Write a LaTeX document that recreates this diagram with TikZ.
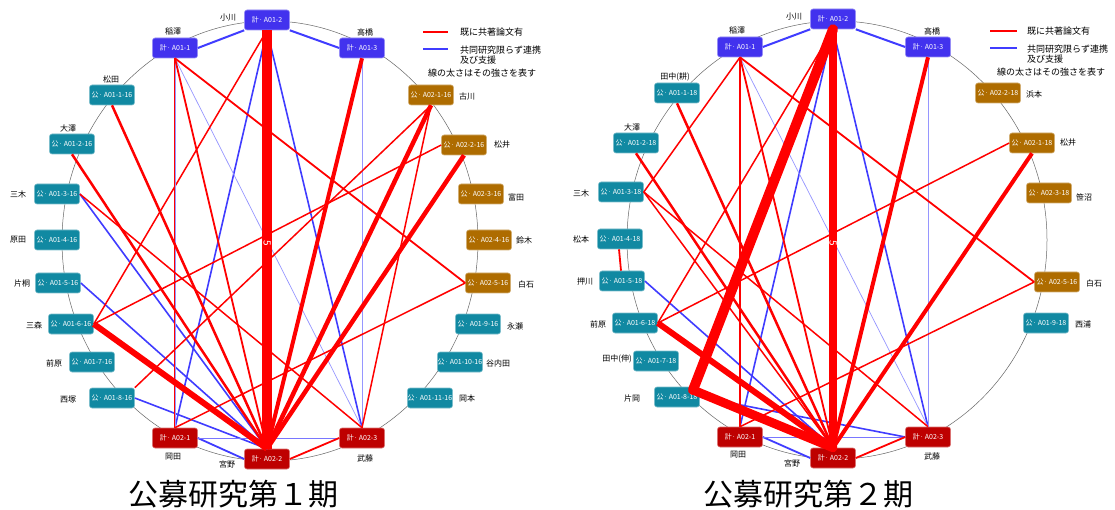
\documentclass[tikz,border=0pt]{standalone}
\usepackage{fontspec}
\newfontfamily\jp{Noto Sans CJK JP}
\definecolor{kblue}{RGB}{66,50,238}
\definecolor{kred}{RGB}{190,0,0}
\definecolor{pteal}{RGB}{17,137,162}
\definecolor{pbrown}{RGB}{174,108,0}
\definecolor{ered}{RGB}{255,0,0}
\definecolor{eblue}{RGB}{64,60,255}
\definecolor{lblue}{RGB}{150,150,255}
\newcommand{\kk}{計·\,}
\newcommand{\kp}{公·\,}
\tikzset{
  nd/.style={rounded corners=2.5pt, minimum width=45pt, minimum height=20pt, inner sep=0pt,
    text=white, font=\jp\fontsize{7}{8}\selectfont, fill=#1, draw=#1!55!white, line width=0.6pt},
  kb/.style={nd=kblue},
  kr/.style={nd=kred},
  pt/.style={nd=pteal},
  pb/.style={nd=pbrown},
  lab/.style={font=\jp\fontsize{8}{9}\selectfont, text=black, inner sep=0pt},
  leg/.style={font=\jp\fontsize{9}{10}\selectfont, text=black, inner sep=0pt, anchor=west, align=left},
  re/.style={draw=ered, line width=#1},
  be/.style={draw=eblue, line width=#1},
  te/.style={draw=lblue, line width=#1},
  ring/.style={draw=black!60, line width=0.5pt},
  ttl/.style={font=\jp\fontsize{30}{32}\selectfont, text=black, inner sep=0pt},
  wt/.style={font=\jp\fontsize{10}{10}\selectfont, text=white, inner sep=0pt, rotate=-90}
}
\begin{document}
\begin{tikzpicture}[x=1pt,y=-1pt]
\useasboundingbox (0,0) rectangle (1115,510);
\fill[white] (0,0) rectangle (1115,510);

% ================= LEFT (period 1) =================
\draw[ring] (270,241) ellipse [x radius=208, y radius=220];
\node[kb] (L12) at (267,20) {\kk A01-2};
\node[kb] (L11) at (175,48) {\kk A01-1};
\node[kb] (L13) at (362,48) {\kk A01-3};
\node[pt] (La1) at (112,95) {\kp A01-1-16};
\node[pt] (La2) at (72,144) {\kp A01-2-16};
\node[pt] (La3) at (57,194) {\kp A01-3-16};
\node[pt] (La4) at (57,240) {\kp A01-4-16};
\node[pt] (La5) at (58,283) {\kp A01-5-16};
\node[pt] (La6) at (71,324) {\kp A01-6-16};
\node[pt] (La7) at (92,362) {\kp A01-7-16};
\node[pt] (La8) at (112,398) {\kp A01-8-16};
\node[kr] (L21) at (175,438) {\kk A02-1};
\node[kr] (L22) at (267,459) {\kk A02-2};
\node[kr] (L23) at (362,438) {\kk A02-3};
\node[pt] (La11) at (430,398) {\kp A01-11-16};
\node[pt] (La10) at (460,362) {\kp A01-10-16};
\node[pt] (La9) at (478,324) {\kp A01-9-16};
\node[pb] (Lb5) at (488,283) {\kp A02-5-16};
\node[pb] (Lb4) at (489,240) {\kp A02-4-16};
\node[pb] (Lb3) at (481,194) {\kp A02-3-16};
\node[pb] (Lb2) at (464,145) {\kp A02-2-16};
\node[pb] (Lb1) at (431,95) {\kp A02-1-16};

\node[lab] (nL12) at (228,18) {小川};
\node[lab] (nL11) at (173,32) {稲澤};
\node[lab] (nL13) at (365,32) {高橋};
\node[lab] (nLa1) at (111,79) {松田};
\node[lab] (nLa2) at (68,128) {大澤};
\node[lab] (nLa3) at (18,194) {三木};
\node[lab] (nLa4) at (18,240) {原田};
\node[lab] (nLa5) at (22,283) {片桐};
\node[lab] (nLa6) at (34,325) {三森};
\node[lab] (nLa7) at (54,363) {前原};
\node[lab] (nLa8) at (68,400) {西塚};
\node[lab] (nL21) at (173,457) {岡田};
\node[lab] (nL22) at (227,464) {宮野};
\node[lab] (nL23) at (365,458) {武藤};
\node[lab] (nLa11) at (467,398) {岡本};
\node[lab] (nLa10) at (498,363) {谷内田};
\node[lab] (nLa9) at (515,326) {永瀬};
\node[lab] (nLb5) at (526,284) {白石};
\node[lab] (nLb4) at (524,240) {鈴木};
\node[lab] (nLb3) at (516,197) {富田};
\node[lab] (nLb2) at (502,145) {松井};
\node[lab] (nLb1) at (467,96) {古川};

% blue edges
\draw[be=2] (L11.east) -- (L12.south west);
\draw[be=2] (L12.south east) -- (L13.west);
\draw[be=1.6] (L12.south) -- (L21.north);
\draw[be=1.6] (L12.south) -- (L23.north);
\draw[te=0.7] (L11.south) -- (L23.north);
\draw[te=0.9] (L13.south) -- (L23.north);
\draw[be=1.6] (La3.east) -- (L22.north);
\draw[be=1.6] (La5.east) -- (L22.north);
\draw[be=1.6] (La8.east) -- (L22.north);
\draw[be=1.8] (L21.east) -- (L22.west);
\draw[draw=eblue!70!white, line width=0.9] (L21.east) -- (L23.west);
% red edges
\draw[re=9.5] (L12.south) -- (L22.north);
\draw[re=1.5] (L12.south) -- (La6.east);
\draw[re=2] (L11.south) -- (L21.north);
\draw[te=0.5] (L11.south) -- (L21.north);
\draw[re=1.8] (L11.south) -- (L22.north);
\draw[re=1.8] (L11.south) -- (Lb5.west);
\draw[re=2.5] (La1.south) -- (L22.north);
\draw[re=2.5] (La2.south) -- (L22.north);
\draw[re=1.5] (La3.east) -- (L23.north);
\draw[re=6] (La6.east) -- (L22.north);
\draw[re=1.5] (La6.east) -- (Lb2.west);
\draw[re=1.5] (La8.north east) -- (Lb1.south);
\draw[re=1.5] (L21.north) -- (Lb5.west);
\draw[re=4.5] (L22.north) -- (Lb1.south);
\draw[re=4.5] (L22.north) -- (Lb2.south);
\draw[re=4] (L22.north) -- (L13.south);
\draw[re=1.8] (L22.east) -- (L23.west);
\draw[re=1.5] (L23.north) -- (Lb1.south);
\node[wt] (wL) at (267,243) {5};

% legend left
\coordinate (lgL1a) at (423,32); \coordinate (lgL1b) at (448,32);
\coordinate (lgL2a) at (423,49); \coordinate (lgL2b) at (448,49);
\draw[re=1.5] (lgL1a) -- (lgL1b);
\draw[be=1.5] (lgL2a) -- (lgL2b);
\node[leg] (lgLt1) at (460,32) {既に共著論文有};
\node[leg] (lgLt2) at (460,55) {共同研究限らず連携\\及び支援};
\node[leg] (lgLt3) at (428,73) {線の太さはその強さを表す};
\node[ttl] (tL) at (233,494) {公募研究第１期};

% ================= RIGHT (period 2) =================
\draw[ring] (837,240) ellipse [x radius=210, y radius=219];
\node[kb] (R12) at (833,19) {\kk A01-2};
\node[kb] (R11) at (740,47) {\kk A01-1};
\node[kb] (R13) at (928,47) {\kk A01-3};
\node[pt] (Ra1) at (677,93) {\kp A01-1-18};
\node[pt] (Ra2) at (636,143) {\kp A01-2-18};
\node[pt] (Ra3) at (621,192) {\kp A01-3-18};
\node[pt] (Ra4) at (620,239) {\kp A01-4-18};
\node[pt] (Ra5) at (622,281) {\kp A01-5-18};
\node[pt] (Ra6) at (635,323) {\kp A01-6-18};
\node[pt] (Ra7) at (656,361) {\kp A01-7-18};
\node[pt] (Ra8) at (677,397) {\kp A01-8-18};
\node[kr] (R21) at (740,437) {\kk A02-1};
\node[kr] (R22) at (833,458) {\kk A02-2};
\node[kr] (R23) at (928,437) {\kk A02-3};
\node[pb] (Rb2) at (998,93) {\kp A02-2-18};
\node[pb] (Rb1) at (1032,143) {\kp A02-1-18};
\node[pb] (Rb3) at (1049,193) {\kp A02-3-18};
\node[pb] (Rb5) at (1057,282) {\kp A02-5-16};
\node[pt] (Ra9) at (1046,323) {\kp A01-9-18};

\node[lab] (nR12) at (794,17) {小川};
\node[lab] (nR11) at (737,31) {稲澤};
\node[lab] (nR13) at (932,31) {高橋};
\node[lab] (nRa1) at (675,77) {田中(耕)};
\node[lab] (nRa2) at (632,127) {大澤};
\node[lab] (nRa3) at (581,193) {三木};
\node[lab] (nRa4) at (581,239) {松本};
\node[lab] (nRa5) at (585,281) {押川};
\node[lab] (nRa6) at (598,324) {前原};
\node[lab] (nRa7) at (617,359) {田中(伸)};
\node[lab] (nRa8) at (632,398) {片岡};
\node[lab] (nR21) at (738,455) {岡田};
\node[lab] (nR22) at (792,463) {宮野};
\node[lab] (nR23) at (932,456) {武藤};
\node[lab] (nRb2) at (1034,94) {浜本};
\node[lab] (nRb1) at (1068,143) {松井};
\node[lab] (nRb3) at (1084,197) {笹沼};
\node[lab] (nRb5) at (1094,283) {白石};
\node[lab] (nRa9) at (1083,324) {西浦};

\coordinate (Ra8c) at (693,390);
% blue edges
\draw[be=2] (R11.east) -- (R12.south west);
\draw[be=2] (R12.south east) -- (R13.west);
\draw[be=1.6] (R12.south) -- (R21.north);
\draw[be=1.6] (R12.south) -- (R23.north);
\draw[te=0.7] (R11.south) -- (R23.north);
\draw[te=0.9] (R13.south) -- (R23.north);
\draw[be=1.6] (Ra5.east) -- (R22.north);
\draw[be=1.6] (Ra8.east) -- (R23.west);
\draw[be=1.8] (R21.east) -- (R22.west);
\draw[draw=eblue!70!white, line width=0.9] (R21.east) -- (R23.west);
% red edges
\draw[re=8.5] (R12.south) -- (R22.north);
\draw[re=10, line cap=round] (R12.south) -- (Ra8c);
\draw[re=9, line cap=round] (Ra8c) -- (R22.north);
\draw[re=1.5] (R11.south) -- (Ra3.east);
\draw[re=1.5] (R12.south) -- (Ra6.east);
\draw[re=1.8] (R11.south) -- (R21.north);
\draw[re=1.8] (R11.south) -- (R22.north);
\draw[re=1.8] (R11.south) -- (Rb5.west);
\draw[re=2.5] (Ra1.south) -- (R22.north);
\draw[re=2.5] (Ra2.south) -- (R22.north);
\draw[re=1.5] (Ra3.east) -- (R22.north);
\draw[re=1.5] (Ra3.east) -- (R23.north);
\draw[re=1.8] ([xshift=-1pt]Ra4.south) -- ([xshift=-1pt]Ra5.north);
\draw[re=6] (Ra6.east) -- (R22.north);
\draw[re=1.5] (Ra6.east) -- (Rb1.west);
\draw[re=1.5] (R21.north) -- (Rb5.west);
\draw[re=4] (R22.north) -- (R13.south);
\draw[re=4] (R22.north) -- (Rb1.south);
\draw[re=1.8] (R22.east) -- (R23.west);
\node[wt] (wR) at (833,243) {5};

% legend right
\coordinate (lgR1a) at (990,31); \coordinate (lgR1b) at (1017,31);
\coordinate (lgR2a) at (990,48); \coordinate (lgR2b) at (1017,48);
\draw[re=1.5] (lgR1a) -- (lgR1b);
\draw[be=1.5] (lgR2a) -- (lgR2b);
\node[leg] (lgRt1) at (1027,31) {既に共著論文有};
\node[leg] (lgRt2) at (1027,54) {共同研究限らず連携\\及び支援};
\node[leg] (lgRt3) at (997,72) {線の太さはその強さを表す};
\node[ttl] (tR) at (808,494) {公募研究第２期};
\end{tikzpicture}
\end{document}
